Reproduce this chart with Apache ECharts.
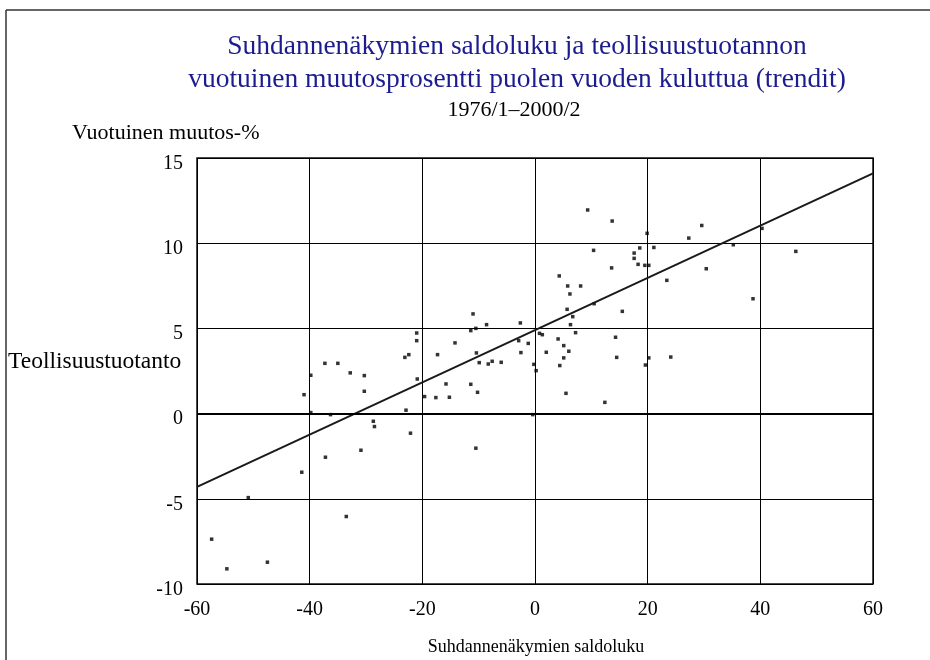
<!DOCTYPE html>
<html>
<head>
<meta charset="utf-8">
<script src="https://cdn.jsdelivr.net/npm/echarts@6/dist/echarts.min.js"></script>
<style>
  html, body { margin: 0; padding: 0; background: #fff; }
  #chart { width: 930px; height: 660px; }
</style>
</head>
<body>
<div id="chart"></div>
<script>
// saldoluku (x) ja muutos-% (y), luettu kuvasta
const saldo = [
  -37.3, -35.0, -39.8, -32.8, -30.3, -30.3, -41.0, -39.8, -36.3, -30.9,
  -37.2, -41.4, -50.9, -33.5, -57.4, -47.5, -54.7, -11.0, -11.4, -10.5,
  -8.6, -2.6, -21.0, -21.0, -14.2, -2.9, -1.2, 0.8, -22.4, -23.1,
  -17.3, -10.4, -2.5, -7.6, -8.3, -9.9, -6.0, -0.2, 0.2, -20.9,
  -15.8, -11.4, -10.2, -19.6, -17.6, -15.2, -22.9, -0.4, -28.7, -28.5,
  -22.1, -10.5, 9.35, 13.7, 29.6, 19.9, 27.3, 10.4, 21.1, 18.6,
  17.6, 17.6, 18.3, 19.5, 20.2, 13.6, 30.4, 23.4, 4.3, 5.8,
  8.1, 6.2, 10.5, 5.7, 15.5, 6.7, 6.3, 7.2, 1.3, 4.1,
  14.3, 5.1, 6.0, 2.0, 14.5, 5.1, 20.2, 24.1, 4.4, 19.6,
  5.5, 12.4, 40.3, 35.2, 46.3, 38.7
]
const muutos = [
  2.95, 2.95, 2.25, 2.39, 2.23, 1.31, 1.11, 0.06, -0.06, -2.15,
  -2.56, -3.44, -4.93, -6.04, -7.37, -8.72, -9.11, 5.85, 4.87, 5.0,
  5.22, 5.32, 4.73, 4.28, 4.15, 4.28, 4.12, 4.71, 3.46, 3.30,
  3.46, 3.56, 3.58, 3.07, 2.91, 2.99, 3.01, 2.89, 2.52, 2.03,
  1.74, 1.72, 1.25, 1.0, 0.94, 0.96, 0.2, -0.06, -0.45, -0.76,
  -1.15, -2.03, 11.95, 11.30, 11.04, 10.58, 10.30, 9.58, 9.75, 9.72,
  9.42, 9.11, 8.76, 8.7, 8.7, 8.55, 8.5, 7.82, 8.08, 7.49,
  7.49, 7.02, 6.45, 6.12, 6.0, 5.69, 5.22, 4.75, 4.63, 4.38,
  4.48, 3.99, 3.66, 3.60, 3.30, 3.27, 3.27, 3.32, 2.82, 2.85,
  1.19, 0.66, 10.87, 9.91, 9.52, 6.74
]
// trendisuoran päätepisteet
const trendX = [-60, 60]
const trendY = [-4.3, 14.1]

const xTicks = [-60, -40, -20, 0, 20, 40, 60]
const yTicks = [-10, -5, 0, 5, 10, 15]

const serif = '"Liberation Serif", "Times New Roman", serif'

const chart = echarts.init(document.getElementById('chart'))

const option = {
  backgroundColor: '#fff',
  animation: false,
  grid: {
    left: 197,
    top: 158,
    right: 57,
    bottom: 76,
    show: true,
    borderColor: '#111',
    borderWidth: 1.5
  },
  xAxis: {
    type: 'value',
    min: xTicks[0],
    max: xTicks[xTicks.length - 1],
    interval: 20,
    axisLine: { show: false, onZero: false },
    axisTick: { show: false },
    axisLabel: { color: '#000', fontFamily: serif, fontSize: 20, margin: 16 },
    splitLine: { lineStyle: { color: '#000', width: 1 } }
  },
  yAxis: {
    type: 'value',
    min: yTicks[0],
    max: yTicks[yTicks.length - 1],
    interval: 5,
    axisLine: { show: false, onZero: false },
    axisTick: { show: false },
    axisLabel: {
      margin: 14,
      formatter: '{t|{value}}',
      rich: { t: { color: '#000', fontFamily: serif, fontSize: 20, padding: [11, 0, 0, 0] } }
    },
    splitLine: { lineStyle: { color: '#000', width: 1 } }
  },
  series: [
    {
      type: 'scatter',
      symbol: 'rect',
      symbolSize: 3.5,
      itemStyle: { color: '#000' },
      data: saldo.map((x, i) => [x, muutos[i]]),
      markLine: {
        silent: true,
        symbol: 'none',
        label: { show: false },
        lineStyle: { color: '#000', width: 2, type: 'solid' },
        data: [{ yAxis: 0 }]
      },
      z: 3
    },
    {
      type: 'line',
      showSymbol: false,
      lineStyle: { color: '#1a1a1a', width: 2 },
      data: trendX.map((x, i) => [x, trendY[i]]),
      z: 4
    }
  ],
  graphic: [
    { type: 'line', shape: { x1: 6, y1: 10, x2: 930, y2: 10 }, style: { stroke: '#333', lineWidth: 1.5 } },
    { type: 'line', shape: { x1: 6, y1: 10, x2: 6, y2: 660 }, style: { stroke: '#333', lineWidth: 1.5 } },
    {
      type: 'text', x: 517, y: 47,
      style: { text: 'Suhdannenäkymien saldoluku ja teollisuustuotannon', fill: '#1c1c8e',
        font: '27.5px ' + serif, textAlign: 'center', textVerticalAlign: 'middle' }
    },
    {
      type: 'text', x: 517, y: 80,
      style: { text: 'vuotuinen muutosprosentti puolen vuoden kuluttua (trendit)', fill: '#1c1c8e',
        font: '27.5px ' + serif, textAlign: 'center', textVerticalAlign: 'middle' }
    },
    {
      type: 'text', x: 514, y: 110,
      style: { text: '1976/1–2000/2', fill: '#000',
        font: '22px ' + serif, textAlign: 'center', textVerticalAlign: 'middle' }
    },
    {
      type: 'text', x: 72, y: 133,
      style: { text: 'Vuotuinen muutos-%', fill: '#000',
        font: '22px ' + serif, textAlign: 'left', textVerticalAlign: 'middle' }
    },
    {
      type: 'text', x: 8, y: 362,
      style: { text: 'Teollisuustuotanto', fill: '#000',
        font: '23.5px ' + serif, textAlign: 'left', textVerticalAlign: 'middle' }
    },
    {
      type: 'text', x: 536, y: 647,
      style: { text: 'Suhdannenäkymien saldoluku', fill: '#000',
        font: '18px ' + serif, textAlign: 'center', textVerticalAlign: 'middle' }
    }
  ]
}

chart.setOption(option)
</script>
</body>
</html>
